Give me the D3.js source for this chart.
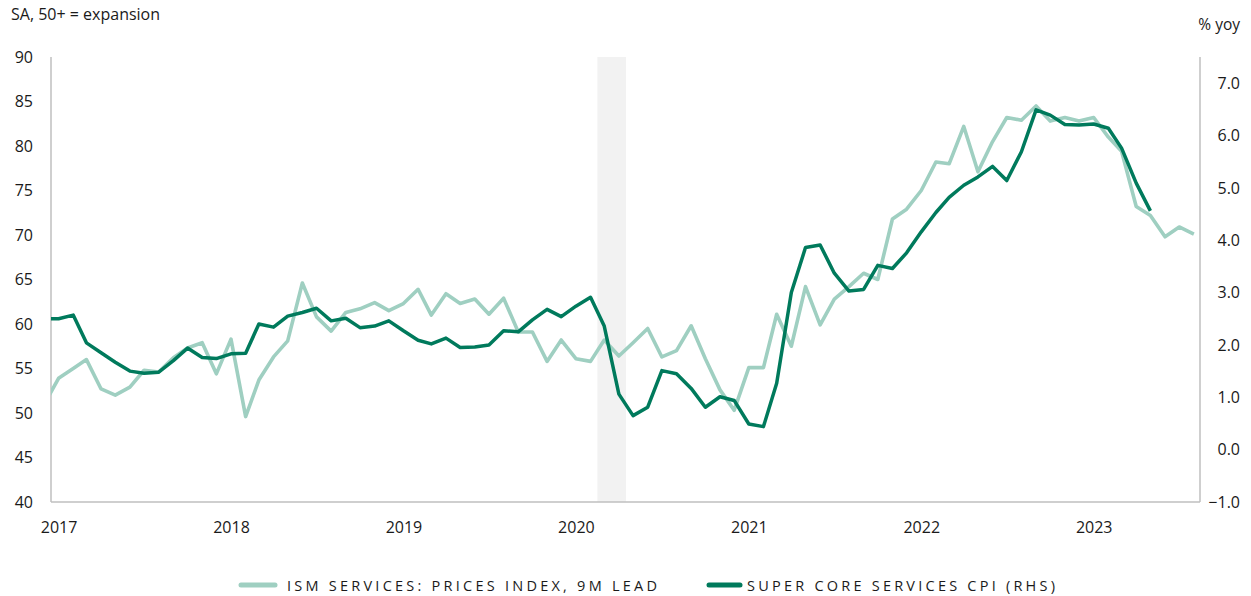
<!DOCTYPE html>
<html><head><meta charset="utf-8">
<script src="https://cdn.jsdelivr.net/npm/d3@7"></script>
<style>
html,body{margin:0;padding:0;background:#fff;}
svg{display:block;font-family:"Open Sans","Noto Sans",sans-serif;}
</style></head>
<body><svg id="c" width="1251" height="596"></svg>
<script>
// ---- data ----
const startMonth = "2016-12"; // first monthly observation
const ismPrices = [50.9,
  53.9,55.0,56.0,52.7,52.0,52.9,54.8,54.6,56.2,57.3,57.9,54.4,
  58.3,49.6,53.7,56.3,58.1,64.6,60.8,59.2,61.3,61.7,62.4,61.5,
  62.3,63.9,61.0,63.4,62.3,62.8,61.1,62.9,59.1,59.1,55.8,58.2,
  56.1,55.8,58.2,56.4,57.9,59.5,56.3,57.0,59.8,56.1,52.6,50.3,
  55.1,55.1,61.1,57.5,64.2,59.9,62.8,64.2,65.7,65.0,71.8,72.9,
  75.0,78.2,78.0,82.2,77.1,80.5,83.2,82.9,84.5,82.8,83.2,82.8,
  83.2,81.0,79.4,73.2,72.2,69.8,70.9,70.1];
const superCore = [2.50,
  2.50,2.57,2.04,1.85,1.67,1.50,1.46,1.48,1.70,1.94,1.76,1.74,
  1.83,1.84,2.40,2.34,2.55,2.62,2.70,2.46,2.51,2.33,2.36,2.46,
  2.27,2.09,2.02,2.13,1.95,1.96,2.00,2.27,2.25,2.48,2.68,2.54,
  2.74,2.91,2.36,1.06,0.65,0.81,1.51,1.45,1.17,0.81,1.01,0.94,
  0.49,0.44,1.27,3.00,3.86,3.91,3.37,3.03,3.06,3.52,3.46,3.76,
  4.16,4.53,4.82,5.05,5.21,5.41,5.14,5.69,6.49,6.39,6.21,6.20,
  6.22,6.14,5.76,5.09,4.56];
const recessionMonths = ["2020-03","2020-04"];
const leftTicks = [40,45,50,55,60,65,70,75,80,85,90];
const rightTicks = [-1,0,1,2,3,4,5,6,7];
const yearTicks = ["2017","2018","2019","2020","2021","2022","2023"];
const seriesNames = ["ISM SERVICES: PRICES INDEX, 9M LEAD","SUPER CORE SERVICES CPI (RHS)"];
const leftTitle = "SA, 50+ = expansion";
const rightTitle = "% yoy";

// ---- setup ----
const parseM = d3.utcParse("%Y-%m");
const t0 = parseM(startMonth);
const monthAt = i => d3.utcMonth.offset(t0, i);
const L = 51, R = 1200, T = 57, B = 502;
const lightC = "#9fcfc1", darkC = "#007a5c", axisC = "#bfbfbf", textC = "#1a1a1a";

const x = d3.scaleUtc().domain([Date.UTC(2016,11,16), Date.UTC(2023,7,14)]).range([L, R]);
const yL = d3.scaleLinear().domain([40, 90]).range([B, T]);
const yR = d3.scaleLinear().domain([-1, 7.5]).range([B, T]);

const svg = d3.select("#c");
svg.append("defs").append("clipPath").attr("id","clip")
  .append("rect").attr("x",L).attr("y",T).attr("width",R-L).attr("height",B-T);

// recession band
const r0 = parseM(recessionMonths[0]), r1 = parseM(recessionMonths[recessionMonths.length-1]);
const bx0 = (x(d3.utcMonth.offset(r0,-1)) + x(r0))/2;
const bx1 = (x(r1) + x(d3.utcMonth.offset(r1,1)))/2;
svg.append("rect").attr("x",bx0).attr("y",T).attr("width",bx1-bx0).attr("height",B-T).attr("fill","#f2f2f2");

// axes
const gL = svg.append("g").attr("transform",`translate(${L},0)`)
  .call(d3.axisLeft(yL).tickValues(leftTicks).tickSize(0).tickPadding(18).tickFormat(d3.format("d")));
const gR = svg.append("g").attr("transform",`translate(${R},0)`)
  .call(d3.axisRight(yR).tickValues(rightTicks).tickSize(0).tickPadding(12).tickFormat(d3.format(".1f")));
gR.selectAll("text").attr("text-anchor","end").attr("dx","28");
const gX = svg.append("g").attr("transform",`translate(0,${B})`)
  .call(d3.axisBottom(x).tickValues(yearTicks.map(y=>d3.utcParse("%Y")(y))).tickSize(0).tickPadding(20).tickFormat(d3.utcFormat("%Y")));
[gL,gR,gX].forEach(g=>{
  g.select(".domain").attr("stroke",axisC).attr("stroke-width",1.5);
  g.selectAll("text").attr("fill",textC).attr("font-size",16).attr("font-family","'Open Sans',sans-serif");
});
gL.select(".domain").attr("d",`M0,${T}V${B}`);
gR.select(".domain").attr("d",`M0,${T}V${B}`);
gX.select(".domain").attr("d",`M${L},0H${R}`);

// lines
const plot = svg.append("g").attr("clip-path","url(#clip)");
plot.append("path").datum(ismPrices)
  .attr("fill","none").attr("stroke",lightC).attr("stroke-width",3.6).attr("stroke-linejoin","round")
  .attr("d", d3.line().x((d,i)=>x(monthAt(i))).y(d=>yL(d)));
plot.append("path").datum(superCore)
  .attr("fill","none").attr("stroke",darkC).attr("stroke-width",3.5).attr("stroke-linejoin","round")
  .attr("d", d3.line().x((d,i)=>x(monthAt(i))).y(d=>yR(d)));

// titles
svg.append("text").attr("x",11).attr("y",20).attr("font-size",16).attr("fill",textC).text(leftTitle);
svg.append("text").attr("x",1240).attr("y",30).attr("text-anchor","end").attr("font-size",15.5).attr("fill",textC).text(rightTitle);

// legend
const leg = [
  {name:seriesNames[0], color:lightC, x1:241, x2:275, tx:287, tw:370},
  {name:seriesNames[1], color:darkC, x1:709, x2:740, tx:747, tw:308}
];
const lg = svg.append("g");
leg.forEach(d=>{
  lg.append("line").attr("x1",d.x1).attr("x2",d.x2).attr("y1",585).attr("y2",585)
    .attr("stroke",d.color).attr("stroke-width",5).attr("stroke-linecap","round");
  lg.append("text").attr("x",d.tx).attr("y",591).attr("font-size",14.5).attr("fill",textC)
    .attr("textLength",d.tw).attr("lengthAdjust","spacing").text(d.name);
});
</script></body></html>
